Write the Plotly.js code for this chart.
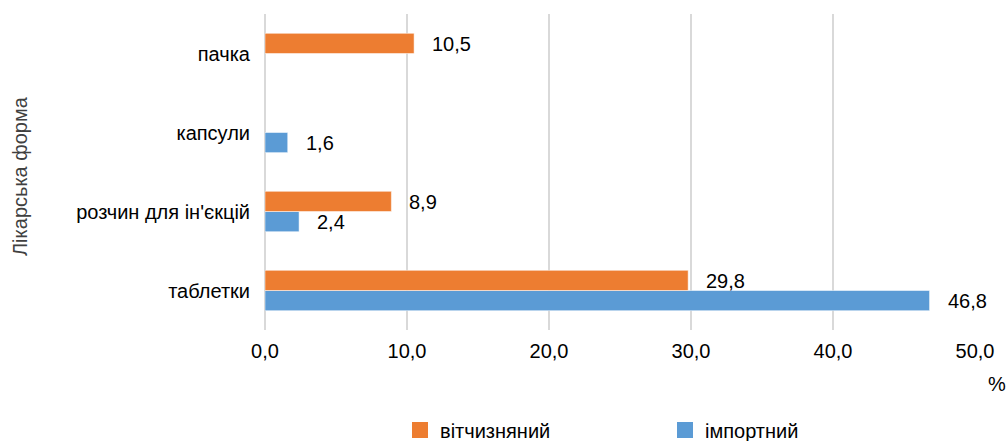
<!DOCTYPE html>
<html>
<head>
<meta charset="utf-8">
<script src="https://cdn.plot.ly/plotly-3.0.1.min.js"></script>
<style>html,body{margin:0;padding:0;background:#fff}#chart{width:1008px;height:441px}</style>
</head>
<body>
<div id="chart"></div>
<script>
const categories = ["таблетки", "розчин для ін'єкцій", "капсули", "пачка"];
const domesticName = "вітчизняний";
const importName = "імпортний";
const domesticValues = [29.8, 8.9, null, 10.5];
const importValues = [46.8, 2.4, 1.6, null];
const xTickValues = [0, 10, 20, 30, 40, 50];
const yAxisTitle = "Лікарська форма";
const xUnit = "%";

const FONT = "Liberation Sans, Arial, sans-serif";
const ORANGE = "#ED7D31";
const BLUE = "#5B9BD5";
const fmt = v => v.toFixed(1).replace('.', ',');

const traces = [
  {type:'bar', orientation:'h', name: importName, y: categories, x: importValues, showlegend:false,
   marker:{color: BLUE, line:{color:'rgba(255,255,255,0.5)', width:1}}, hoverinfo:'none'},
  {type:'bar', orientation:'h', name: domesticName, y: categories, x: domesticValues, showlegend:false,
   marker:{color: ORANGE, line:{color:'rgba(255,255,255,0.5)', width:1}}, hoverinfo:'none'},
  // legend-only entries with larger square symbols
  {type:'scatter', mode:'markers', name: domesticName, x:[null], y:[null], showlegend:true,
   marker:{symbol:'square', size:18, color: ORANGE}, hoverinfo:'none'},
  {type:'scatter', mode:'markers', name: importName, x:[null], y:[null], showlegend:true,
   marker:{symbol:'square', size:18, color: BLUE}, hoverinfo:'none'}
];

const annotations = [];
categories.forEach((c, i) => {
  if (domesticValues[i] != null) annotations.push({x: domesticValues[i], y: c, xref:'x', yref:'y', text: fmt(domesticValues[i]),
    showarrow:false, xanchor:'left', yanchor:'middle', xshift: 16, yshift: 10, font:{family:FONT, size:20, color:'#000'}});
  if (importValues[i] != null) annotations.push({x: importValues[i], y: c, xref:'x', yref:'y', text: fmt(importValues[i]),
    showarrow:false, xanchor:'left', yanchor:'middle', xshift: 16, yshift: -10, font:{family:FONT, size:20, color:'#000'}});
});
annotations.push({xref:'paper', yref:'paper', x:(20-265)/710, y:(330-176)/316, text: yAxisTitle, textangle:-90,
  showarrow:false, xanchor:'center', yanchor:'middle', font:{family:FONT, size:20, color:'#404040'}});
annotations.push({xref:'paper', yref:'paper', x:(997-265)/710, y:(330-384)/316, text: xUnit,
  showarrow:false, xanchor:'center', yanchor:'middle', font:{family:FONT, size:20, color:'#000'}});

const layout = {
  width:1008, height:441,
  margin:{l:265, r:33, t:14, b:111, autoexpand:false},
  paper_bgcolor:'#fff', plot_bgcolor:'#fff',
  separators: ', ',
  barmode:'group', bargap:0.49, bargroupgap:0,
  font:{family:FONT, size:20, color:'#000'},
  xaxis:{range:[0,50], tickvals:xTickValues, tickformat:'.1f', showgrid:true, gridcolor:'#d9d9d9', gridwidth:1.5,
    zeroline:true, zerolinecolor:'#d9d9d9', zerolinewidth:1.5, showline:false, ticks:'outside', ticklen:3,
    tickcolor:'rgba(0,0,0,0)', tickfont:{family:FONT, size:20, color:'#000'}, fixedrange:true},
  yaxis:{type:'category', categoryorder:'array', categoryarray:categories, showgrid:false, zeroline:false, showline:false,
    ticks:'outside', ticklen:10, tickcolor:'rgba(0,0,0,0)', tickfont:{family:FONT, size:20, color:'#000'}, fixedrange:true},
  showlegend:true,
  legend:{orientation:'h', x:(600-265)/710 + 65/710, xanchor:'center', y:(330-430)/316, yanchor:'middle',
    font:{family:FONT, size:20, color:'#000'}, entrywidth:220, traceorder:'normal'},
  annotations: annotations
};
Plotly.newPlot('chart', traces, layout, {staticPlot:true});
</script>
</body>
</html>
